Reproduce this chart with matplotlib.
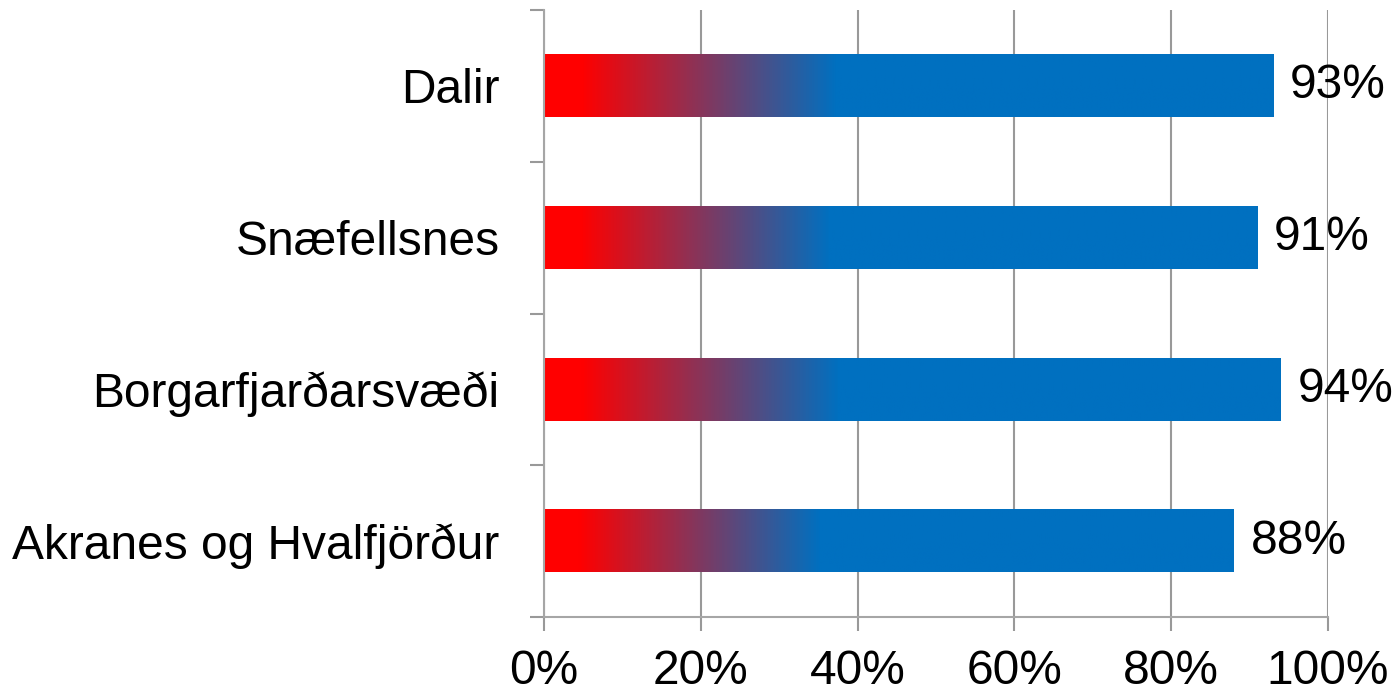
import numpy as np
import matplotlib
matplotlib.use('Agg')
import matplotlib.pyplot as plt
from matplotlib.colors import LinearSegmentedColormap

# data
categories = ['Dalir', 'Snæfellsnes', 'Borgarfjarðarsvæði', 'Akranes og Hvalfjörður']
values = [93, 91, 94, 88]
value_labels = ['93%', '91%', '94%', '88%']
xticks = [0, 20, 40, 60, 80, 100]
xtick_labels = ['0%', '20%', '40%', '60%', '80%', '100%']

plt.rcParams['font.family'] = ['Liberation Sans', 'DejaVu Sans']
FS = 34.5

grad = LinearSegmentedColormap.from_list(
    'redblue', [(0.0, '#FF0000'), (0.05, '#FF0000'), (0.40, '#0070C0'), (1.0, '#0070C0')])

fig = plt.figure(figsize=(14, 6.95), dpi=100)
ax = fig.add_axes([0.3886, 0.1122, 0.56, 0.8734])

bar_h = 0.41
ramp = np.linspace(0, 1, 512).reshape(1, -1)
for i, (v, lab) in enumerate(zip(values, value_labels)):
    ax.imshow(ramp, cmap=grad, aspect='auto', interpolation='bilinear',
              extent=(0, v, i + bar_h / 2, i - bar_h / 2), zorder=2)
    ax.annotate(lab, xy=(v, i), xytext=(12, 0), textcoords='offset points',
                ha='left', va='center', fontsize=FS, color='black', zorder=3)

ax.set_xlim(0, 100)
ax.set_ylim(len(categories) - 0.5, -0.5)

ax.set_xticks(xticks)
ax.set_xticklabels(xtick_labels, fontsize=FS)
ax.tick_params(axis='x', length=10, width=1.5, color='#999999', pad=13)
ax.xaxis.grid(True, color='#999999', linewidth=1.5, zorder=1)
ax.set_axisbelow(True)

ax.set_yticks(np.arange(len(categories) + 1) - 0.5)
ax.set_yticklabels([])
ax.set_yticks(np.arange(len(categories)), minor=True)
ax.set_yticklabels(categories, minor=True, fontsize=FS)
ax.tick_params(axis='y', which='major', length=10, width=1.5, color='#999999')
ax.tick_params(axis='y', which='minor', length=0, pad=32)

for side in ['top', 'right']:
    ax.spines[side].set_visible(False)
for side in ['left', 'bottom']:
    ax.spines[side].set_color('#A6A6A6')
    ax.spines[side].set_linewidth(1.5)

fig.savefig('out.png', dpi=100)
